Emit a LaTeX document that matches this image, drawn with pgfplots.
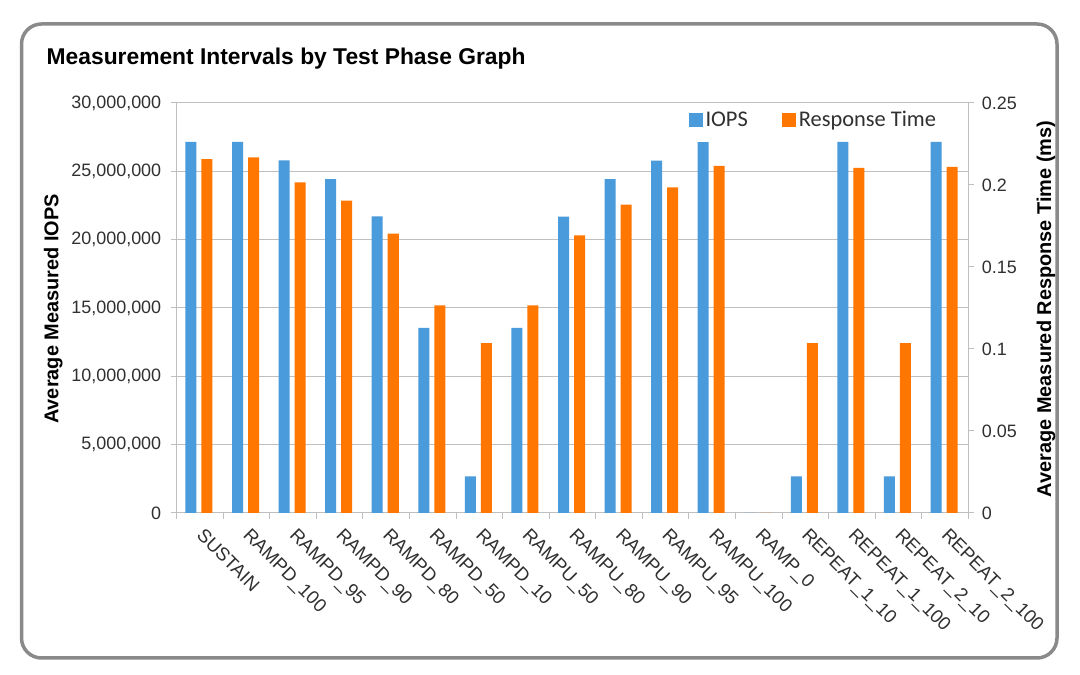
\documentclass[border=0pt]{standalone}
\usepackage{fontspec}
\setmainfont{Liberation Sans}
\newfontfamily\carlito{Carlito}
\usepackage{pgfplots}
\usepackage{pgfplotstable}
\pgfplotsset{compat=1.18}
\definecolor{iops}{HTML}{4A9BDC}
\definecolor{rt}{HTML}{FF7700}
\definecolor{gridc}{HTML}{BFBFBF}
\definecolor{txt}{HTML}{303030}
\definecolor{frame}{HTML}{8A8A8A}

\pgfplotstableread{
x iops rt
0 27160000 0.2157
1 27160000 0.2169
2 25800000 0.2016
3 24430000 0.1904
4 21700000 0.1703
5 13550000 0.1266
6 2680000 0.1036
7 13550000 0.1266
8 21680000 0.1693
9 24420000 0.1880
10 25780000 0.1986
11 27140000 0.2116
12 0 0
13 2680000 0.1036
14 27160000 0.2104
15 2680000 0.1036
16 27160000 0.2110
}\data

\pgfplotsset{base/.style={
  scale only axis, width=791.6bp, height=410bp,
  at={(176.7bp,162bp)}, anchor=south west,
  xmin=-0.5, xmax=16.5,
  axis line style={gridc, line width=1bp},
  tick style={gridc, line width=1bp},
  tick align=outside,
  major tick length=6bp,
  minor tick length=6bp,
  tick label style={font=\fontsize{18}{18}\selectfont, text=txt},
  /pgf/number format/assume math mode=true,
  scaled y ticks=false,
  label style={font=\bfseries\fontsize{20}{20}\selectfont, text=black},
  clip=false,
}}

\begin{document}
\begin{tikzpicture}[x=1bp,y=1bp]
\useasboundingbox (0,0) rectangle (1080,675);
\fill[white] (0,0) rectangle (1080,675);
\draw[frame, line width=3.5bp, rounded corners=20bp] (21.5,17) rectangle (1057,651);
\node[anchor=base west, font=\bfseries\fontsize{22.9}{22.9}\selectfont, inner sep=0pt] at (46.5,610) {Measurement Intervals by Test Phase Graph};

\begin{axis}[base,
  axis y line*=left, axis x line*=bottom,
  ymin=0, ymax=30000000,
  ytick={0,5000000,10000000,15000000,20000000,25000000,30000000},
  yticklabel style={/pgf/number format/.cd, fixed, 1000 sep={,}, /tikz/.cd, xshift=-6bp},
  ymajorgrids, grid style={gridc, line width=1bp},
  xtick={0,...,16},
  minor xtick={-0.5,0.5,1.5,2.5,3.5,4.5,5.5,6.5,7.5,8.5,9.5,10.5,11.5,12.5,13.5,14.5,15.5,16.5},
  major x tick style={draw=none},
  minor x tick style={draw=gridc, line width=1bp},
  xticklabels={SUSTAIN,RAMPD\_100,RAMPD\_95,RAMPD\_90,RAMPD\_80,RAMPD\_50,RAMPD\_10,RAMPU\_50,RAMPU\_80,RAMPU\_90,RAMPU\_95,RAMPU\_100,RAMP\_0,REPEAT\_1\_10,REPEAT\_1\_100,REPEAT\_2\_10,REPEAT\_2\_100},
  xticklabel style={font=\fontsize{18.7}{18.7}\selectfont, xshift=5bp, yshift=-8bp, rotate=-45, anchor=north west, inner sep=0pt},
  ylabel={Average Measured IOPS},
  ylabel style={at={(axis description cs:-0.156,0.4976)}, anchor=center},
]
\addplot[ybar, bar width=11bp, bar shift=-9bp, fill=iops, draw=none] table[x=x, y=iops] {\data};
\end{axis}

\begin{axis}[base,
  axis y line*=right, axis x line=none,
  ymin=0, ymax=0.25,
  ytick={0,0.05,0.1,0.15,0.2,0.25},
  yticklabel style={/pgf/number format/.cd, fixed, precision=2, /tikz/.cd, xshift=4bp},
  ylabel={Average Measured Response Time (ms)},
  ylabel style={at={(axis description cs:1.098,0.4976)}, anchor=center},
  legend style={at={(0.962,0.9585)}, anchor=east, draw=none, fill=none, inner sep=0pt,
    font=\carlito\fontsize{22.5}{22.5}\selectfont, text=txt,
    legend columns=2,
    /tikz/every odd column/.append style={column sep=1bp},
    /tikz/every even column/.append style={column sep=32bp}},
  legend image code/.code={\fill[#1] (0bp,-7bp) rectangle (14bp,7bp);},
]
\addlegendimage{fill=iops, draw=none}
\addplot[ybar, bar width=11bp, bar shift=7bp, fill=rt, draw=none] table[x=x, y=rt] {\data};
\legend{IOPS, Response Time}
\end{axis}
\end{tikzpicture}
\end{document}
